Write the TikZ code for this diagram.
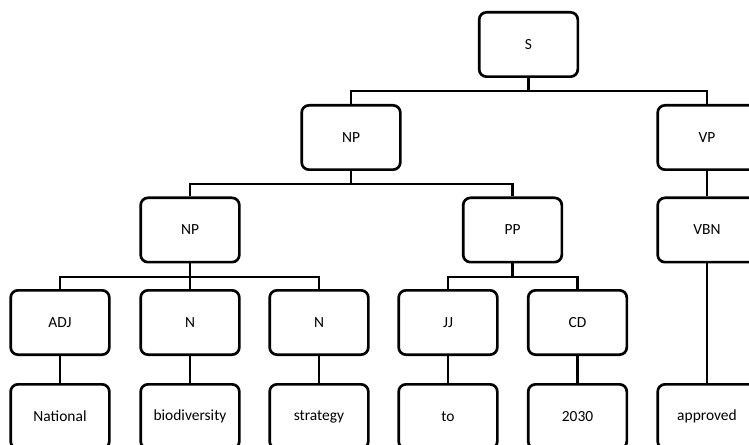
\documentclass[tikz,border=0pt]{standalone}
\usepackage{fontspec}
\setmainfont{Carlito}
\begin{document}
\begin{tikzpicture}[x=0.75pt,y=-0.75pt,
  tag/.style={draw=black,line width=2pt,rounded corners=5.5pt,fill=white,
    minimum width=74pt,minimum height=48.25pt,inner sep=0pt,
    font=\fontsize{11.6}{14}\selectfont},
  link/.style={draw=black,line width=2pt}]
\useasboundingbox (0,0) rectangle (749,445);
\clip (0,0) rectangle (749,445);

% constituent boxes
\node[tag] (S)    at (528.5,44.5)  {S};
\node[tag] (NPa)  at (351,137.5)   {NP};
\node[tag] (VP)   at (707,137.5)   {VP};
\node[tag] (NPb)  at (190,230)     {NP};
\node[tag] (PP)   at (512.5,230)   {PP};
\node[tag] (VBN)  at (707,230)     {VBN};
\node[tag] (ADJ)  at (60,322.5)    {ADJ};
\node[tag] (Na)   at (190,322.5)   {N};
\node[tag] (Nb)   at (319,322.5)   {N};
\node[tag] (JJ)   at (448,322.5)   {JJ};
\node[tag] (CD)   at (577.5,322.5) {CD};

% words
\node[tag] (w1) at (60,416.5)    {National};
\node[tag] (w2) at (190,416.5)   {biodiversity};
\node[tag] (w3) at (319,416.5)   {strategy};
\node[tag] (w4) at (448,416.5)   {to};
\node[tag] (w5) at (577.5,416.5) {2030};
\node[tag] (w6) at (707,416.5)   {approved};

% bus heights
\coordinate (busS)  at (0,91);
\coordinate (busNP) at (0,184);
\coordinate (busL3) at (0,277);

% S -> NP, VP
\draw[link] (S.south) -- (S.south |- busS);
\draw[link] (NPa.north) -- (NPa.north |- busS) -| (VP.north);
% NP -> NP, PP
\draw[link] (NPa.south) -- (NPa.south |- busNP);
\draw[link] (NPb.north) -- (NPb.north |- busNP) -| (PP.north);
% VP -> VBN
\draw[link] (VP.south) -- (VBN.north);
% NP -> ADJ, N, N
\draw[link] (NPb.south) -- (Na.north);
\draw[link] (ADJ.north) -- (ADJ.north |- busL3) -| (Nb.north);
% PP -> JJ, CD
\draw[link] (PP.south) -- (PP.south |- busL3);
\draw[link] (JJ.north) -- (JJ.north |- busL3) -| (CD.north);
% pre-terminals -> words
\draw[link] (ADJ.south) -- (w1.north);
\draw[link] (Na.south) -- (w2.north);
\draw[link] (Nb.south) -- (w3.north);
\draw[link] (JJ.south) -- (w4.north);
\draw[link] (CD.south) -- (w5.north);
\draw[link] (VBN.south) -- (w6.north);
\end{tikzpicture}
\end{document}
